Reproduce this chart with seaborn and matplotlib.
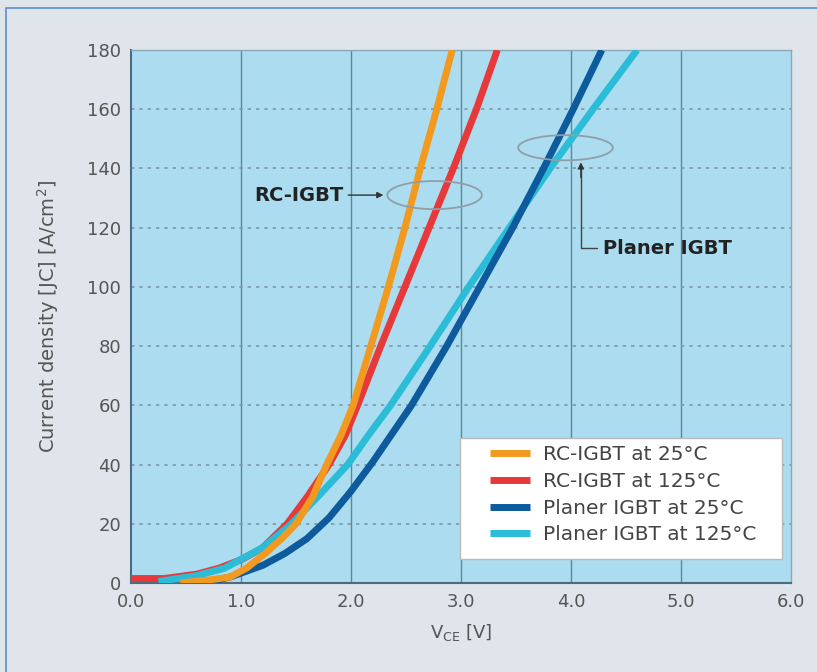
import matplotlib
matplotlib.use("Agg")
import matplotlib.pyplot as plt
from matplotlib.patches import Ellipse, Rectangle
import seaborn as sns
import pandas as pd

# ---- data ----
rc25_x = [0.45, 0.7, 0.9, 1.05, 1.22, 1.37, 1.5, 1.65, 1.78, 1.91, 2.02, 2.18, 2.34, 2.49, 2.63, 2.78, 2.92]
rc25_y = [0, 1, 2, 5, 10, 15, 20, 29, 40, 50, 60, 80, 100, 120, 140, 160, 180]

rc125_x = [0.0, 0.3, 0.6, 0.8, 1.01, 1.2, 1.42, 1.6, 1.8, 1.95, 2.06, 2.27, 2.49, 2.71, 2.93, 3.14, 3.33]
rc125_y = [1.5, 1.5, 3, 5, 8, 12, 20, 29, 40, 50, 60, 80, 100, 120, 140, 160, 180]

pl25_x = [0.65, 0.9, 1.05, 1.2, 1.4, 1.6, 1.8, 2.0, 2.2, 2.55, 2.87, 3.17, 3.47, 3.75, 4.02, 4.28]
pl25_y = [0, 2, 4, 6, 10, 15, 22, 31, 41, 60, 80, 100, 120, 140, 160, 180]

pl125_x = [0.25, 0.6, 0.85, 1.0, 1.2, 1.46, 1.72, 1.97, 2.16, 2.36, 2.72, 3.07, 3.44, 3.81, 4.2, 4.6]
pl125_y = [0.5, 2.5, 5, 8, 12, 20, 30, 40, 50, 60, 80, 100, 120, 140, 160, 180]

series_names = ["RC-IGBT at 25°C", "RC-IGBT at 125°C", "Planer IGBT at 25°C", "Planer IGBT at 125°C"]
series_colors = ["#f29a1f", "#e8393a", "#0d5a9c", "#2bbcd8"]

x_ticks = [0, 1, 2, 3, 4, 5, 6]
y_ticks = list(range(0, 181, 20))

frames = []
for name, xs, ys in zip(series_names,
                        [rc25_x, rc125_x, pl25_x, pl125_x],
                        [rc25_y, rc125_y, pl25_y, pl125_y]):
    frames.append(pd.DataFrame({"x": xs, "y": ys, "series": name}))
df = pd.concat(frames, ignore_index=True)

sns.set_style("white")
plt.rcParams['font.family'] = ['DejaVu Sans']

fig = plt.figure(figsize=(8.17, 6.72), dpi=100)
fig.patch.set_facecolor("#dfe5ea")
ax = fig.add_axes([131/817, 1 - 583/672, 660/817, 533/672])
ax.set_facecolor("#abdcef")

# outer frame
fig.patches.append(Rectangle((6/817, -0.05), 1.2, 1 - 8/672 + 0.05, transform=fig.transFigure,
                             fill=False, edgecolor="#5b8fd0", linewidth=1.2))

# draw order: red, cyan, dark blue, orange
order = [1, 3, 2, 0]
for k, i in enumerate(order):
    sub = df[df["series"] == series_names[i]]
    sns.lineplot(data=sub, x="x", y="y", sort=False, color=series_colors[i],
                 linewidth=5.0, ax=ax, label=series_names[i], zorder=3 + k,
                 solid_capstyle="butt", solid_joinstyle="round")

ax.set_xlim(0, 6)
ax.set_ylim(0, 180)
ax.set_xticks(x_ticks)
ax.set_xticklabels([f"{v:.1f}" for v in x_ticks])
ax.set_yticks(y_ticks)
ax.tick_params(axis="both", labelsize=13, colors="#555555", length=0, pad=7)

for xv in x_ticks[1:-1]:
    ax.axvline(xv, color="#5f8799", linewidth=1.0, zorder=1)
for yv in y_ticks[1:]:
    ax.axhline(yv, color="#7e98a6", linewidth=1.2, linestyle=(0, (2, 3)), zorder=1)

for s in ["left", "bottom"]:
    ax.spines[s].set_color("#4d6b7c")
    ax.spines[s].set_linewidth(1.5)
for s in ["top", "right"]:
    ax.spines[s].set_color("#8aa9b8")
    ax.spines[s].set_linewidth(1.0)

ax.set_xlabel("V$_{\\mathregular{CE}}$ [V]", fontsize=13, color="#555555", labelpad=8)
ax.set_ylabel("Current density [JC] [A/cm$^{\\mathregular{2}}$]", fontsize=14, color="#555555", labelpad=19)

# legend box (white panel) and legend entries
ax.add_patch(Rectangle((0.498, 0.045), 0.488, 0.227, transform=ax.transAxes,
                       facecolor="white", edgecolor="#bbbbbb", linewidth=1.0, zorder=10))
handles, labels = ax.get_legend_handles_labels()
hmap = dict(zip(labels, handles))
leg = ax.legend([hmap[n] for n in series_names], series_names, loc="upper left",
                bbox_to_anchor=(0.544, 0.258), fontsize=14.5, frameon=False,
                handlelength=2.0, borderpad=0.0, labelspacing=0.38, handletextpad=0.65,
                borderaxespad=0.0)
for t in leg.get_texts():
    t.set_color("#444444")
leg.set_zorder(11)

# annotations
ell1 = Ellipse((2.76, 131), 0.86, 9.5, fill=False, edgecolor="#8f9fa8", linewidth=1.3, zorder=8)
ax.add_patch(ell1)
ax.annotate("", xy=(2.32, 131), xytext=(1.95, 131),
            arrowprops=dict(arrowstyle="-|>", color="#333333", lw=1.0, mutation_scale=9), zorder=9)
ax.text(1.93, 131, "RC-IGBT", ha="right", va="center", fontsize=14, fontweight="bold",
        color="#222222", zorder=9)

ell2 = Ellipse((3.95, 147), 0.86, 8.5, fill=False, edgecolor="#8f9fa8", linewidth=1.3, zorder=8)
ax.add_patch(ell2)
ax.plot([4.09, 4.09, 4.24], [140, 113, 113], color="#444444", linewidth=1.0, zorder=9)
ax.annotate("", xy=(4.09, 143), xytext=(4.09, 136),
            arrowprops=dict(arrowstyle="-|>", color="#333333", lw=1.0, mutation_scale=9), zorder=9)
ax.text(4.29, 113, "Planer IGBT", ha="left", va="center", fontsize=14, fontweight="bold",
        color="#222222", zorder=9)

fig.savefig("out.png", dpi=100, facecolor=fig.get_facecolor())
